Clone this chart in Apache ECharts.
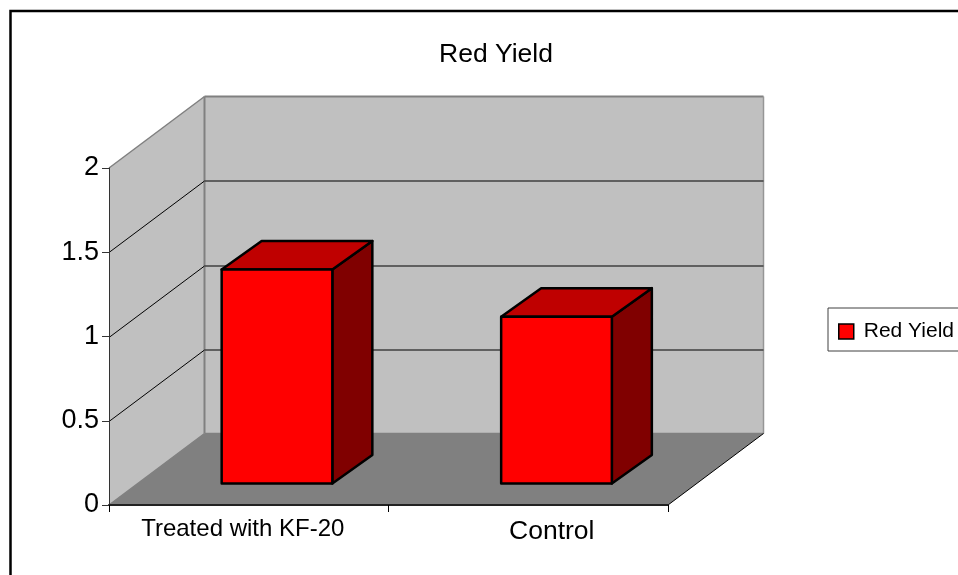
<!DOCTYPE html>
<html>
<head>
<meta charset="utf-8">
<style>
  html, body { margin: 0; padding: 0; background: #fff; overflow: hidden; }
  #main { width: 958px; height: 575px; }
</style>
<script src="https://cdn.jsdelivr.net/npm/echarts@6/dist/echarts.min.js"></script>
</head>
<body>
<div id="main"></div>
<script>
var categories = ['Treated with KF-20', 'Control'];
var redYield = [1.27, 0.99];
var gridValues = [0.5, 1, 1.5];
var wallTop = [2];
var seriesName = 'Red Yield';

// depth of the floor and of the bars, in pixels
var floorDx = 95.5, floorDy = -71.5;
var barDx = 40, barDy = -28.5;
var barRatio = 0.396;
var font = '"Liberation Sans", Arial, sans-serif';

var chart = echarts.init(document.getElementById('main'));

function poly(points, fill, stroke, width) {
    return {
        type: 'polygon',
        shape: { points: points },
        style: { fill: fill, stroke: stroke || null, lineWidth: width || 0, lineJoin: 'round' }
    };
}

function line(x1, y1, x2, y2, stroke, width) {
    return {
        type: 'line',
        shape: { x1: x1, y1: y1, x2: x2, y2: y2 },
        style: { stroke: stroke, lineWidth: width }
    };
}

function renderWalls(params, api) {
    var c = params.coordSys;
    var left = c.x, right = c.x + c.width, bottom = c.y + c.height;
    var top = api.coord([0, api.value(0)])[1];
    var bl = left + floorDx, br = right + floorDx, bb = bottom + floorDy, bt = top + floorDy;
    return {
        type: 'group',
        children: [
            poly([[bl, bt], [br, bt], [br, bb], [bl, bb]], '#c0c0c0'),
            poly([[left, top], [bl, bt], [bl, bb], [left, bottom]], '#c0c0c0'),
            poly([[left, bottom], [right, bottom], [br, bb], [bl, bb]], '#808080'),
            line(left, top, bl, bt, '#808080', 1.5),
            line(bl, bt, br, bt, '#808080', 2),
            line(bl, bt, bl, bb, '#808080', 2),
            line(br, bt, br, bb, '#969696', 1.5),
            line(left, bottom, bl, bb, '#808080', 1.5),
            line(bl, bb, br, bb, '#808080', 1.5),
            line(right, bottom, br, bb, '#000', 1)
        ]
    };
}

function renderGrid(params, api) {
    var c = params.coordSys;
    var y = Math.round(api.coord([0, api.value(0)])[1]) + 0.5;
    var bl = c.x + floorDx, br = c.x + c.width + floorDx, by = y + floorDy;
    return {
        type: 'group',
        children: [
            line(c.x, y, bl, by, '#000', 1),
            line(bl, by, br, by, '#404040', 1.5)
        ]
    };
}

function renderBar(params, api) {
    var p = api.coord([api.value(0), api.value(1)]);
    var base = api.coord([api.value(0), 0]);
    var w = api.size([1, 0])[0] * barRatio;
    var sx = (floorDx - barDx) / 2 + 0.5, sy = (floorDy - barDy) / 2;
    var x0 = p[0] + sx - w / 2, x1 = x0 + w;
    var yTop = p[1] + sy, yBase = base[1] + sy;
    return {
        type: 'group',
        children: [
            poly([[x1, yTop], [x1 + barDx, yTop + barDy], [x1 + barDx, yBase + barDy], [x1, yBase]], '#800000', '#000', 2.5),
            poly([[x0, yTop], [x0 + barDx, yTop + barDy], [x1 + barDx, yTop + barDy], [x1, yTop]], '#bf0000', '#000', 2.5),
            poly([[x0, yTop], [x1, yTop], [x1, yBase], [x0, yBase]], '#ff0000', '#000', 2.5)
        ]
    };
}

var option = {
    animation: false,
    backgroundColor: '#fff',
    textStyle: { fontFamily: font, color: '#000' },
    title: {
        text: seriesName,
        left: 491,
        textAlign: 'center',
        top: 36,
        textStyle: { fontFamily: font, fontSize: 26.5, fontWeight: 'normal', color: '#000' }
    },
    legend: {
        left: 828,
        top: 308,
        padding: [13, 12, 9, 10],
        itemWidth: 15,
        itemHeight: 15,
        itemGap: 0,
        borderColor: '#404040',
        borderWidth: 1,
        backgroundColor: '#fff',
        icon: 'rect',
        data: [seriesName],
        itemStyle: { color: '#ff0000', borderColor: '#000', borderWidth: 1.5 },
        textStyle: { fontFamily: font, fontSize: 21, color: '#000', padding: [0, 0, 0, 5] }
    },
    grid: { left: 109, top: 168, width: 559, height: 337 },
    xAxis: {
        type: 'category',
        z: 5,
        data: [
            { value: categories[0], textStyle: { fontSize: 24, padding: [0, 12, 0, 0] } },
            { value: categories[1], textStyle: { fontSize: 26.5, padding: [1, 0, 0, 47] } }
        ],
        axisLine: { lineStyle: { color: '#222', width: 2 } },
        axisTick: { show: true, length: 7, lineStyle: { color: '#000', width: 1 } },
        axisLabel: { fontFamily: font, color: '#000', margin: 12 },
        splitLine: { show: false }
    },
    yAxis: {
        type: 'value',
        z: 5,
        min: 0,
        max: 2,
        interval: 0.5,
        axisLine: { show: true, lineStyle: { color: '#333', width: 1 } },
        axisTick: { show: true, length: 7, lineStyle: { color: '#333', width: 1 } },
        axisLabel: { fontFamily: font, fontSize: 27, color: '#000', margin: 10, padding: [3, 0, 0, 0] },
        splitLine: { show: false }
    },
    series: [
        { type: 'custom', name: 'walls', z: 1, silent: true, data: wallTop.map(function (v) { return [v]; }), renderItem: renderWalls },
        { type: 'custom', name: 'grid', z: 2, silent: true, data: gridValues.map(function (v) { return [v]; }), renderItem: renderGrid },
        {
            type: 'custom',
            name: seriesName,
            z: 3,
            itemStyle: { color: '#ff0000' },
            data: redYield.map(function (v, i) { return [i, v]; }),
            encode: { x: 0, y: 1 },
            renderItem: renderBar
        }
    ],
    graphic: [{
        type: 'rect',
        z: 100,
        silent: true,
        shape: { x: 10.5, y: 11, width: 1000, height: 600 },
        style: { fill: null, stroke: '#000', lineWidth: 2.5 }
    }]
};

chart.setOption(option);
</script>
</body>
</html>
